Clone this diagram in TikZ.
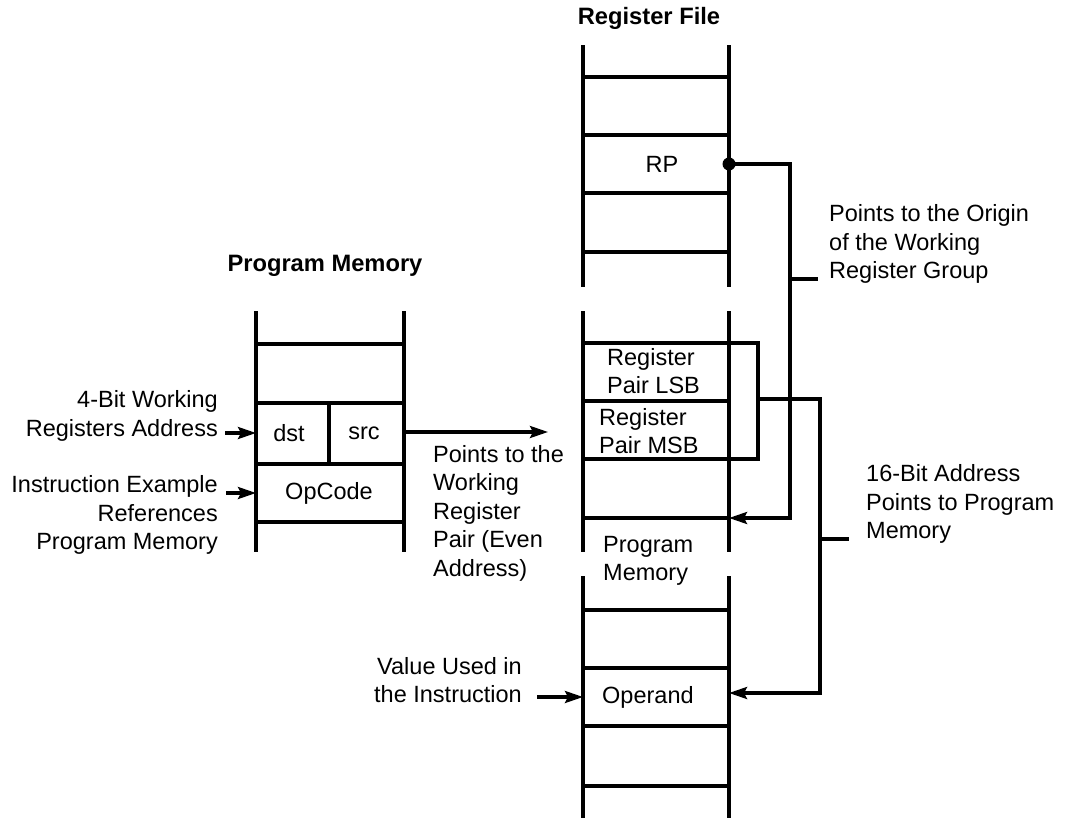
\documentclass[tikz,border=0pt]{standalone}
\usepackage{fontspec}
\setmainfont{Liberation Sans}
\usetikzlibrary{arrows.meta}

\begin{document}
\begin{tikzpicture}[x=1pt,y=-1pt,
  wall/.style={line width=3.2pt,line cap=rect},
  conn/.style={line width=3.2pt},
  arr/.style={conn,-{Stealth[length=18pt,width=12pt,inset=3pt]}},
  txt/.style={font=\fontsize{23.5}{28.5}\selectfont,inner sep=0pt},
  ttl/.style={font=\fontsize{23.7}{28}\selectfont\bfseries,inner sep=0pt},
  lblL/.style={txt,align=left,anchor=west},
  lblR/.style={txt,align=right,anchor=east},
  junction/.style={circle,fill=black,inner sep=0pt,minimum size=13pt}]
\useasboundingbox (0,0) rectangle (1068,818);

% ---------- Program memory column ----------
\draw[wall] (256,313) -- (256,550);
\draw[wall] (404,313) -- (404,550);
\foreach \y in {344,403,464,522} \draw[wall] (256,\y) -- (404,\y);
\draw[wall] (329,403) -- (329,464);

% ---------- Register file column (three segments) ----------
\foreach \a/\b in {47/285,313/550,578/817} {
  \draw[wall] (583,\a) -- (583,\b);
  \draw[wall] (729,\a) -- (729,\b);
}
\foreach \y in {77,135,193,252,343,401,459,518,610,668,726,786}
  \draw[wall] (583,\y) -- (729,\y);

% ---------- titles ----------
\node[ttl] (titleRF) at (649,18) {Register File};
\node[ttl] (titlePM) at (325,266) {Program Memory};

% ---------- cell contents ----------
\node[txt] (rp) at (662,164) {RP};
\node[lblL] (lsb) at (607,371) {Register\\Pair LSB};
\node[lblL] (msb) at (599,431) {Register\\Pair MSB};
\node[lblL] (pmem) at (603,561) {Program\\Memory};
\node[lblL] (operand) at (602,697) {Operand};
\node[txt] (dst) at (289,433) {dst};
\node[txt] (src) at (364,433) {src};
\node[txt] (opcode) at (329,493) {OpCode};

% ---------- explanatory labels ----------
\node[lblR] (wraddr) at (218,416) {4-Bit Working\\Registers Address};
\node[lblR] (instr) at (218,515) {Instruction Example\\References\\Program Memory};
\node[lblL] (pair) at (433,513) {Points to the\\Working\\Register\\Pair (Even\\Address)};
\node[lblR] (value) at (522,680) {Value Used in\\the Instruction};
\node[lblL] (origin) at (829,244) {Points to the Origin\\of the Working\\Register Group};
\node[lblL] (addr16) at (866,504) {16-Bit Address\\Points to Program\\Memory};

% ---------- connector end points ----------
\coordinate (dstIn0) at (225,433);  \coordinate (dstIn) at (256,433);
\coordinate (opIn0) at (226,493);   \coordinate (opIn) at (256,493);
\coordinate (srcOut) at (404,432);  \coordinate (srcTip) at (548,432);
\coordinate (rpPt) at (729,164);    \coordinate (rpBend) at (790,164);
\coordinate (rpDown) at (790,518);  \coordinate (grpTip) at (729,518);
\coordinate (rpTick) at (790,279);  \coordinate (rpTickEnd) at (818,279);
\coordinate (brTop) at (729,343);   \coordinate (brTopR) at (758,343);
\coordinate (brBot) at (729,459);   \coordinate (brBotR) at (758,459);
\coordinate (brMid) at (758,399);   \coordinate (pBend) at (820,399);
\coordinate (pDown) at (820,693);   \coordinate (operTip) at (729,693);
\coordinate (pTick) at (820,539);   \coordinate (pTickEnd) at (849,539);
\coordinate (valIn0) at (537,697);  \coordinate (valIn) at (583,697);

% ---------- connectors ----------
\draw[arr] (dstIn0) -- (dstIn);
\draw[arr] (opIn0) -- (opIn);
\draw[arr] (srcOut) -- (srcTip);
\draw[arr] (valIn0) -- (valIn);

\node[junction] (rpDot) at (rpPt) {};
\draw[arr] (rpPt) -- (rpBend) -- (rpDown) -- (grpTip);
\draw[conn] (rpTick) -- (rpTickEnd);

\draw[conn] (brTop) -- (brTopR) -- (brBotR) -- (brBot);
\draw[arr] (brMid) -- (pBend) -- (pDown) -- (operTip);
\draw[conn] (pTick) -- (pTickEnd);
\end{tikzpicture}
\end{document}
